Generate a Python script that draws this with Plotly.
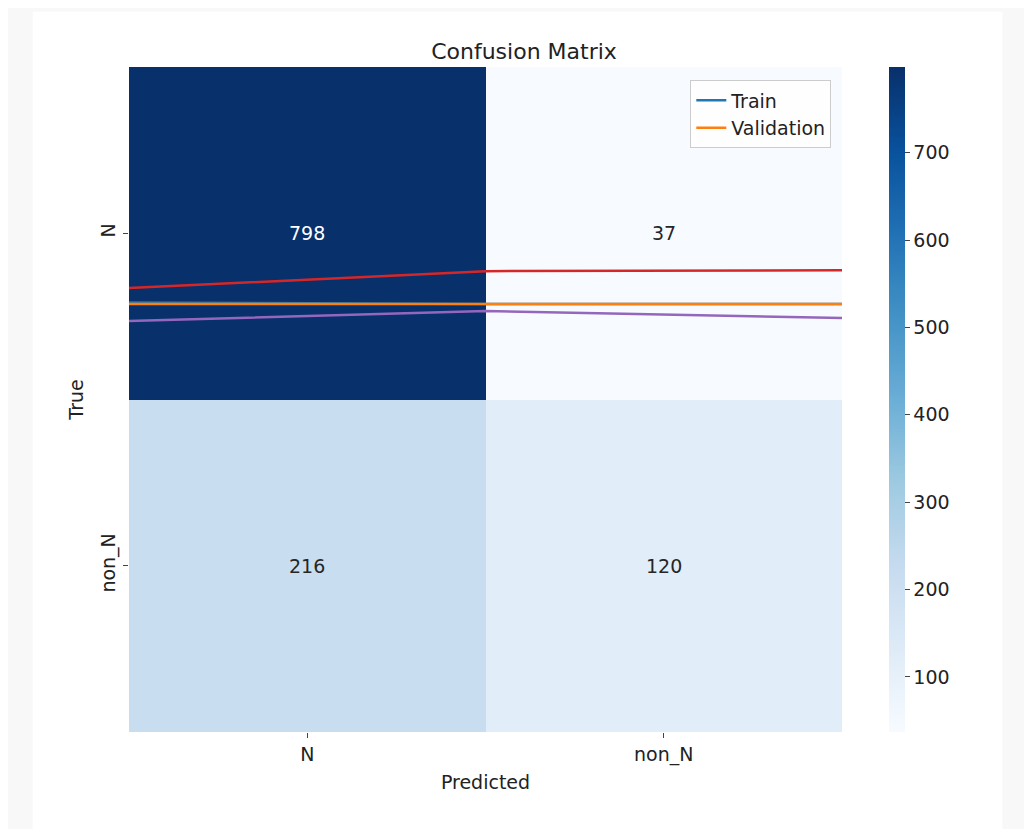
import plotly.graph_objects as go

labels = ["N", "non_N"]
matrix = [[798, 37], [216, 120]]

# leftover training curves drawn over the heatmap
epochs = [0, 1, 2]
train = [0.708, 0.713, 0.713]
validation = [0.713, 0.713, 0.713]
red_line = [0.665, 0.614, 0.611]
purple_line = [0.764, 0.734, 0.755]

fig = go.Figure()
fig.add_trace(go.Heatmap(
    z=matrix, x=[0.5, 1.5], y=[0.5, 1.5], colorscale="Blues", zmin=37, zmax=798,
    showscale=True, hoverinfo="skip",
    colorbar=dict(x=1.052, xanchor="left", y=0.5, len=1.0, ypad=0, thickness=16, outlinewidth=0,
                  tickvals=[100, 200, 300, 400, 500, 600, 700], ticks="outside",
                  tickfont=dict(size=19, color="#222"))))

for i in range(2):
    for j in range(2):
        v = matrix[i][j]
        fig.add_annotation(x=j + 0.5, y=i + 0.5, text=str(v), showarrow=False,
                           font=dict(size=19, color="white" if v > 500 else "#262626"))

fig.add_trace(go.Scatter(x=epochs, y=train, mode="lines", name="Train",
                         line=dict(color="#1f77b4", width=2.5)))
fig.add_trace(go.Scatter(x=epochs, y=validation, mode="lines", name="Validation",
                         line=dict(color="#ff7f0e", width=2.5)))
fig.add_trace(go.Scatter(x=epochs, y=red_line, mode="lines", showlegend=False,
                         line=dict(color="#d62728", width=2.5)))
fig.add_trace(go.Scatter(x=epochs, y=purple_line, mode="lines", showlegend=False,
                         line=dict(color="#9467bd", width=2.5)))

fig.add_shape(type="rect", xref="paper", yref="paper", x0=-0.135, x1=1.225, y0=-0.16, y1=1.083,
              fillcolor="white", line=dict(width=0), layer="below")

fig.update_layout(
    width=1032, height=829,
    margin=dict(l=121, r=198, t=59, b=105),
    paper_bgcolor="#f8f8f8", plot_bgcolor="white",
    font=dict(family="DejaVu Sans", size=19, color="#222"),
    title=dict(text="Confusion Matrix", x=0.5, xanchor="center", y=0.957, font=dict(size=22)),
    xaxis=dict(range=[0, 2], tickvals=[0.5, 1.5], ticktext=labels, ticks="outside",
               showgrid=False, zeroline=False,
               title=dict(text="Predicted", standoff=10, font=dict(size=19))),
    yaxis=dict(range=[2, 0], tickvals=[0.5, 1.5], ticktext=labels, ticks="outside",
               tickangle=-90, showgrid=False, zeroline=False,
               title=dict(text="True", standoff=8, font=dict(size=19))),
    legend=dict(x=0.985, y=0.98, xanchor="right", yanchor="top", bgcolor="rgba(255,255,255,0.8)",
                bordercolor="#cccccc", borderwidth=1, font=dict(size=19)),
)

fig.write_html("out.html")
